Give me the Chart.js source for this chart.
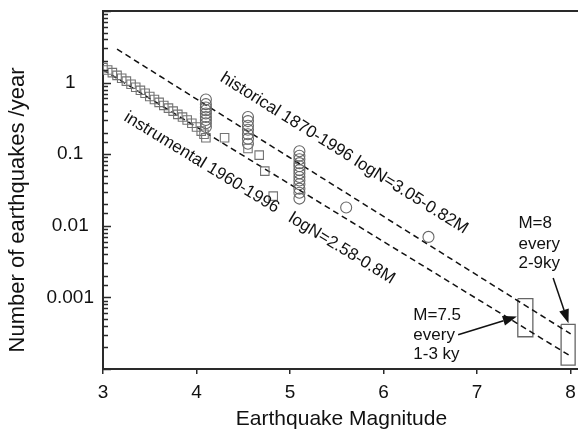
<!DOCTYPE html>
<html>
<head>
<meta charset="utf-8">
<script src="https://cdn.jsdelivr.net/npm/chart.js@4.4.1/dist/chart.umd.min.js"></script>
<style>
  html, body { margin: 0; padding: 0; background: #fff; overflow: hidden; }
  #wrap { width: 590px; height: 431px; }
</style>
</head>
<body>
<div id="wrap"><canvas id="quakes" width="590" height="431"></canvas></div>
<script>
// instrumental catalogue 1960-1996 (squares)
const instMag = [3.00, 3.05, 3.10, 3.15, 3.20, 3.25, 3.30, 3.35, 3.40, 3.45, 3.50, 3.55,
  3.60, 3.65, 3.70, 3.75, 3.80, 3.85, 3.90, 3.95, 4.00, 4.05, 4.08, 4.10,
  4.30, 4.55, 4.67, 4.73, 4.82];
const instRate = [1.62, 1.50, 1.38, 1.26, 1.15, 1.05, 0.95, 0.86, 0.78, 0.71, 0.64, 0.58,
  0.53, 0.48, 0.44, 0.40, 0.36, 0.33, 0.30, 0.27, 0.24, 0.21, 0.19, 0.17,
  0.17, 0.12, 0.097, 0.058, 0.026];

// historical catalogue 1870-1996 (circles)
const histMag = [4.1, 4.1, 4.1, 4.1, 4.1, 4.1, 4.1, 4.1, 4.1,
  4.55, 4.55, 4.55, 4.55, 4.55, 4.55, 4.55,
  5.1, 5.1, 5.1, 5.1, 5.1, 5.1, 5.1, 5.1, 5.1, 5.1, 5.1, 5.1, 5.1,
  5.6, 6.48];
const histRate = [0.58, 0.50, 0.45, 0.41, 0.37, 0.33, 0.30, 0.27, 0.24,
  0.33, 0.29, 0.25, 0.22, 0.19, 0.165, 0.14,
  0.11, 0.095, 0.085, 0.075, 0.068, 0.06, 0.054, 0.048, 0.043, 0.038, 0.033, 0.029, 0.024,
  0.018, 0.007];

// fitted lines (end points)
const histFitM = [3.15, 8.0];
const histFitN = [2.93, 3.09e-4];
const instFitM = [3.0, 8.0];
const instFitN = [1.51, 1.51e-4];

// recurrence boxes for M=7.5 and M=8
const box75M = [7.435, 7.596, 7.596, 7.435, 7.435];
const box75N = [9.6e-4, 9.6e-4, 2.82e-4, 2.82e-4, 9.6e-4];
const box8M = [7.898, 8.048, 8.048, 7.898, 7.898];
const box8N = [4.2e-4, 4.2e-4, 1.13e-4, 1.13e-4, 4.2e-4];

// axis ticks
const xTickValues = [3, 4, 5, 6, 7, 8];
const yTickValues = [1, 0.1, 0.01, 0.001];
const yTickLabels = ['1', '0.1', '0.01', '0.001'];

// annotations (data coordinates)
const histLabel = 'historical 1870-1996 logN=3.05-0.82M';
const instLabel = 'instrumental 1960-1996   logN=2.58-0.8M';
const histLabelAt = [5.578, 0.103];
const instLabelAt = [4.673, 0.0244];
const note75 = ['M=7.5', 'every', '1-3 ky'];
const note75M = 6.318;
const note75N = [4.9e-4, 2.56e-4, 1.38e-4];
const note8 = ['M=8', 'every', '2-9ky'];
const note8M = 7.442;
const note8N = [9.46e-3, 4.7e-3, 2.54e-3];
const arrowFrom = [[6.797, 3.01e-4], [7.813, 1.87e-3]];
const arrowTo = [[7.425, 5.4e-4], [7.977, 4.35e-4]];

const FONT = '"Liberation Sans", Arial, Helvetica, sans-serif';
const pts = (xs, ys) => xs.map((x, i) => ({ x: x, y: ys[i] }));

const overlay = {
  id: 'overlay',
  afterDraw(chart) {
    const { ctx, chartArea } = chart;
    const xs = chart.scales.x;
    const ys = chart.scales.y;
    const px = (m) => xs.getPixelForValue(m);
    const py = (n) => ys.getPixelForValue(n);

    ctx.save();
    // inward ticks on the log axis
    ctx.strokeStyle = '#2a2a2a';
    ctx.lineWidth = 1.5;
    ys.ticks.forEach((t) => {
      const e = Math.log10(t.value);
      const major = Math.abs(e - Math.round(e)) < 1e-6;
      const y = Math.round(py(t.value)) + 0.5;
      ctx.beginPath();
      ctx.moveTo(chartArea.left, y);
      ctx.lineTo(chartArea.left + (major ? 8 : 5), y);
      ctx.stroke();
    });

    // top frame line
    ctx.lineWidth = 2;
    ctx.beginPath();
    ctx.moveTo(chartArea.left, chartArea.top);
    ctx.lineTo(chartArea.right, chartArea.top);
    ctx.stroke();

    // labels along the fitted lines
    ctx.fillStyle = '#111';
    ctx.font = '17px ' + FONT;
    ctx.textAlign = 'center';
    ctx.textBaseline = 'middle';
    const along = (text, at, fm, fn) => {
      const a = Math.atan2(py(fn[1]) - py(fn[0]), px(fm[1]) - px(fm[0]));
      ctx.save();
      ctx.translate(px(at[0]), py(at[1]));
      ctx.rotate(a);
      ctx.fillText(text, 0, 0);
      ctx.restore();
    };
    along(histLabel, histLabelAt, histFitM, histFitN);
    along(instLabel, instLabelAt, instFitM, instFitN);

    // recurrence notes
    ctx.textAlign = 'left';
    ctx.textBaseline = 'alphabetic';
    note75.forEach((s, i) => ctx.fillText(s, px(note75M), py(note75N[i])));
    note8.forEach((s, i) => ctx.fillText(s, px(note8M), py(note8N[i])));

    // arrows
    ctx.strokeStyle = '#111';
    ctx.lineWidth = 1.5;
    arrowFrom.forEach((f, i) => {
      const x1 = px(f[0]), y1 = py(f[1]);
      const x2 = px(arrowTo[i][0]), y2 = py(arrowTo[i][1]);
      const a = Math.atan2(y2 - y1, x2 - x1);
      const L = 14, W = 5;
      const bx = x2 - L * Math.cos(a), by = y2 - L * Math.sin(a);
      ctx.beginPath();
      ctx.moveTo(x1, y1);
      ctx.lineTo(bx, by);
      ctx.stroke();
      ctx.beginPath();
      ctx.moveTo(x2, y2);
      ctx.lineTo(bx + W * Math.sin(a), by - W * Math.cos(a));
      ctx.lineTo(bx - W * Math.sin(a), by + W * Math.cos(a));
      ctx.closePath();
      ctx.fill();
    });

    // y axis title
    ctx.font = '22px ' + FONT;
    ctx.textAlign = 'center';
    ctx.textBaseline = 'middle';
    ctx.translate(18, 210);
    ctx.rotate(-Math.PI / 2);
    ctx.fillText('Number of earthquakes /year', 0, 0);
    ctx.restore();
  }
};

new Chart(document.getElementById('quakes'), {
  type: 'scatter',
  data: {
    datasets: [
      {
        label: 'instrumental',
        data: pts(instMag, instRate),
        pointStyle: 'rect',
        pointRadius: 6,
        borderColor: '#737373',
        backgroundColor: 'rgba(0,0,0,0)',
        borderWidth: 1.1
      },
      {
        label: 'historical',
        data: pts(histMag, histRate),
        pointStyle: 'circle',
        pointRadius: 5.5,
        borderColor: '#666',
        backgroundColor: 'rgba(0,0,0,0)',
        borderWidth: 1.1
      },
      {
        type: 'line',
        label: 'historical fit',
        data: pts(histFitM, histFitN),
        borderColor: '#111',
        borderWidth: 1.5,
        borderDash: [6, 4],
        pointRadius: 0,
        fill: false
      },
      {
        type: 'line',
        label: 'instrumental fit',
        data: pts(instFitM, instFitN),
        borderColor: '#111',
        borderWidth: 1.5,
        borderDash: [6, 4],
        pointRadius: 0,
        fill: false
      },
      {
        type: 'line',
        label: 'M=7.5',
        data: pts(box75M, box75N),
        borderColor: '#666',
        borderWidth: 1.3,
        pointRadius: 0,
        fill: false
      },
      {
        type: 'line',
        label: 'M=8',
        data: pts(box8M, box8N),
        borderColor: '#666',
        borderWidth: 1.3,
        pointRadius: 0,
        fill: false
      }
    ]
  },
  options: {
    responsive: false,
    animation: false,
    layout: { padding: { top: 11, right: 10, left: 0, bottom: 0 } },
    plugins: { legend: { display: false }, tooltip: { enabled: false } },
    scales: {
      x: {
        type: 'linear',
        min: 3,
        max: 8.1,
        afterBuildTicks(s) { s.ticks = xTickValues.map((v) => ({ value: v })); },
        ticks: { font: { family: FONT, size: 19 }, color: '#111', padding: 7, maxRotation: 0 },
        grid: { drawOnChartArea: false, tickLength: 5, color: '#2a2a2a', lineWidth: 1.5 },
        border: { color: '#2a2a2a', width: 2 },
        title: {
          display: true,
          text: 'Earthquake Magnitude',
          color: '#111',
          font: { family: FONT, size: 21, lineHeight: 1.1 },
          padding: { top: 2, bottom: 0 }
        },
        afterFit(s) { s.height = 62; s.paddingLeft = 0; s.paddingRight = 0; }
      },
      y: {
        type: 'logarithmic',
        min: 1e-4,
        max: 10,
        ticks: {
          autoSkip: false,
          crossAlign: 'center',
          padding: 9,
          color: '#111',
          font: { family: FONT, size: 19 },
          callback(v) {
            const i = yTickValues.findIndex((t) => Math.abs(v - t) / t < 1e-6);
            return i >= 0 ? yTickLabels[i] : '';
          }
        },
        grid: { display: false, drawTicks: false },
        border: { color: '#2a2a2a', width: 2 },
        afterFit(s) { s.width = 103; s.paddingTop = 0; s.paddingBottom = 0; }
      }
    }
  },
  plugins: [overlay]
});
</script>
</body>
</html>
